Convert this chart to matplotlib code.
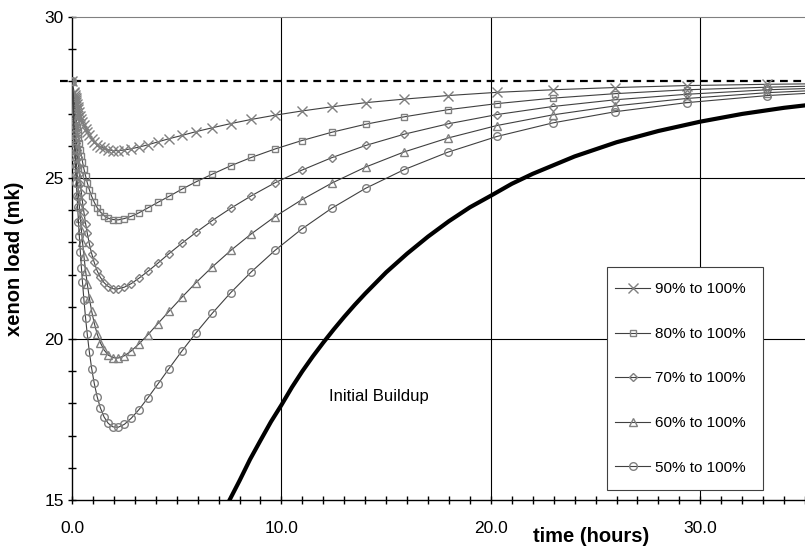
import matplotlib.pyplot as plt
from matplotlib.patches import Rectangle
from matplotlib.ticker import MultipleLocator, FixedLocator

plt.rcParams['font.family'] = ['Liberation Sans', 'DejaVu Sans']

# --- data ---
hours = [0.0, 0.10, 0.11, 0.13, 0.15, 0.17, 0.19, 0.21, 0.24, 0.27,
         0.31, 0.35, 0.40, 0.45, 0.50, 0.57, 0.65, 0.73, 0.83, 0.94,
         1.06, 1.20, 1.35, 1.53, 1.73, 1.96, 2.21, 2.50, 2.83, 3.20,
         3.62, 4.09, 4.63, 5.24, 5.92, 6.70, 7.58, 8.57, 9.69, 10.96,
         12.40, 14.02, 15.86, 17.94, 20.29, 22.95, 25.95, 29.35, 33.20, 37.55]

xe_90 = [28.00, 27.68, 27.65, 27.59, 27.53, 27.47, 27.42, 27.37, 27.29, 27.22,
         27.13, 27.04, 26.94, 26.84, 26.75, 26.64, 26.53, 26.43, 26.32, 26.22,
         26.13, 26.04, 25.97, 25.92, 25.88, 25.85, 25.85, 25.87, 25.91, 25.96,
         26.03, 26.12, 26.22, 26.32, 26.44, 26.56, 26.69, 26.82, 26.95, 27.08,
         27.21, 27.34, 27.45, 27.56, 27.66, 27.74, 27.81, 27.87, 27.91, 27.94]

xe_80 = [28.00, 27.35, 27.29, 27.17, 27.06, 26.95, 26.84, 26.73, 26.58, 26.44,
         26.25, 26.08, 25.87, 25.68, 25.51, 25.28, 25.06, 24.85, 24.63, 24.43,
         24.25, 24.08, 23.95, 23.83, 23.75, 23.71, 23.70, 23.74, 23.81, 23.92,
         24.07, 24.24, 24.43, 24.65, 24.88, 25.12, 25.38, 25.64, 25.90, 26.16,
         26.42, 26.67, 26.90, 27.12, 27.31, 27.48, 27.62, 27.74, 27.82, 27.89]

xe_70 = [28.00, 27.03, 26.94, 26.76, 26.58, 26.42, 26.26, 26.10, 25.87, 25.65,
         25.38, 25.11, 24.81, 24.53, 24.26, 23.93, 23.58, 23.28, 22.95, 22.65,
         22.38, 22.12, 21.92, 21.75, 21.63, 21.56, 21.56, 21.61, 21.72, 21.89,
         22.10, 22.35, 22.65, 22.97, 23.31, 23.68, 24.06, 24.45, 24.85, 25.24,
         25.63, 26.01, 26.36, 26.68, 26.97, 27.22, 27.43, 27.60, 27.74, 27.83]

xe_60 = [28.00, 26.70, 26.58, 26.34, 26.11, 25.89, 25.68, 25.46, 25.16, 24.87,
         24.50, 24.15, 23.75, 23.37, 23.02, 22.57, 22.11, 21.71, 21.27, 20.86,
         20.50, 20.16, 19.89, 19.66, 19.50, 19.42, 19.41, 19.48, 19.63, 19.85,
         20.13, 20.47, 20.86, 21.29, 21.75, 22.24, 22.75, 23.27, 23.80, 24.32,
         24.84, 25.34, 25.81, 26.24, 26.63, 26.96, 27.24, 27.47, 27.65, 27.78]

xe_50 = [28.00, 26.38, 26.23, 25.93, 25.64, 25.37, 25.10, 24.83, 24.45, 24.09,
         23.63, 23.19, 22.69, 22.21, 21.77, 21.21, 20.64, 20.14, 19.59, 19.08,
         18.63, 18.21, 17.87, 17.58, 17.38, 17.27, 17.26, 17.35, 17.54, 17.81,
         18.17, 18.59, 19.08, 19.62, 20.19, 20.80, 21.44, 22.09, 22.75, 23.41,
         24.06, 24.68, 25.26, 25.80, 26.29, 26.71, 27.06, 27.34, 27.56, 27.72]

build_hours = [6.0, 6.5, 7.0, 7.5, 8.0, 8.5, 9.0, 9.5, 10.0, 10.5, 11.0, 11.5,
               12.0, 12.5, 13.0, 13.5, 14.0, 15.0, 16.0, 17.0, 18.0, 19.0,
               20.0, 21.0, 22.0, 24.0, 26.0, 28.0, 30.0, 32.0, 34.0, 36.0]
build_xe = [12.90, 13.55, 14.30, 14.97, 15.60, 16.26, 16.85, 17.43, 17.95, 18.50,
            19.00, 19.46, 19.89, 20.30, 20.69, 21.06, 21.41, 22.07, 22.65, 23.18,
            23.66, 24.09, 24.45, 24.82, 25.13, 25.67, 26.11, 26.46, 26.75, 26.99,
            27.18, 27.33]

equilibrium_xe = 28.0

series = [
    ('90% to 100%', xe_90, 'x', 7.0),
    ('80% to 100%', xe_80, 's', 5.0),
    ('70% to 100%', xe_70, 'D', 3.8),
    ('60% to 100%', xe_60, '^', 5.5),
    ('50% to 100%', xe_50, 'o', 5.5),
]

fig = plt.figure(figsize=(8.05, 5.5), dpi=100)
ax = fig.add_axes([72 / 805, 50 / 550, 733 / 805, 483 / 550])
ax.set_xlim(0, 35)
ax.set_ylim(15, 30)

# grid lines at the major ticks (inside the box only)
for gx in [10, 20, 30]:
    ax.axvline(gx, color='black', lw=0.8, zorder=1)
for gy in [20, 25]:
    ax.axhline(gy, color='black', lw=0.8, zorder=1)

# equilibrium line pokes out a little to the left of the axis
ax.plot([-0.57, 35], [equilibrium_xe, equilibrium_xe], color='black', lw=1.6,
        ls=(0, (3.5, 2.5)), zorder=2, clip_on=False)

for label, vals, mk, ms in series:
    ax.plot(hours, vals, color='#404040', lw=0.8, marker=mk, markersize=ms,
            markeredgecolor='#808080', markerfacecolor='none', markeredgewidth=1.0,
            label=label, zorder=3)

ax.plot(build_hours, build_xe, color='black', lw=3.0, zorder=4)
ax.text(12.28, 18.2, 'Initial Buildup', fontsize=12, va='center', ha='left')

# axes, ticks
ax.spines['right'].set_visible(False)
ax.spines['top'].set_color('#808080')
ax.spines['left'].set_linewidth(1.0)
ax.spines['bottom'].set_linewidth(1.0)

ax.xaxis.set_major_locator(FixedLocator([0, 10, 20, 30]))
ax.set_xticklabels(['0.0', '10.0', '20.0', '30.0'])
ax.xaxis.set_minor_locator(MultipleLocator(1))
ax.yaxis.set_major_locator(FixedLocator([15, 20, 25, 30]))
ax.set_yticklabels(['15', '20', '25', '30'])
ax.yaxis.set_minor_locator(MultipleLocator(1))
ax.tick_params(which='both', direction='inout', length=6, width=1.0, top=False, right=False)
ax.tick_params(axis='x', which='major', labelsize=12.5, pad=12)
ax.tick_params(axis='y', which='major', labelsize=12.5, pad=3)

ax.set_ylabel('xenon load (mk)', fontsize=14.5, fontweight='bold')
ax.yaxis.set_label_coords(-0.066, 0.5)
fig.text(591 / 805, 1 - 537 / 550, 'time (hours)', fontsize=14.5, fontweight='bold',
         ha='center', va='center')

# legend box drawn separately, entries spread evenly inside it
box_x, box_y, box_w, box_h = 0.730, 0.0207, 0.213, 0.462
ax.add_patch(Rectangle((box_x, box_y), box_w, box_h, transform=ax.transAxes,
                       facecolor='white', edgecolor='#404040', lw=0.8, zorder=5))
leg = ax.legend(loc='center left', bbox_to_anchor=(box_x + 8 / 733, box_y + box_h / 2),
                fontsize=11, frameon=False, labelspacing=2.0, borderpad=0,
                borderaxespad=0, handlelength=2.3, handletextpad=0.33)
leg.set_zorder(6)

fig.savefig('out.png', dpi=100)
